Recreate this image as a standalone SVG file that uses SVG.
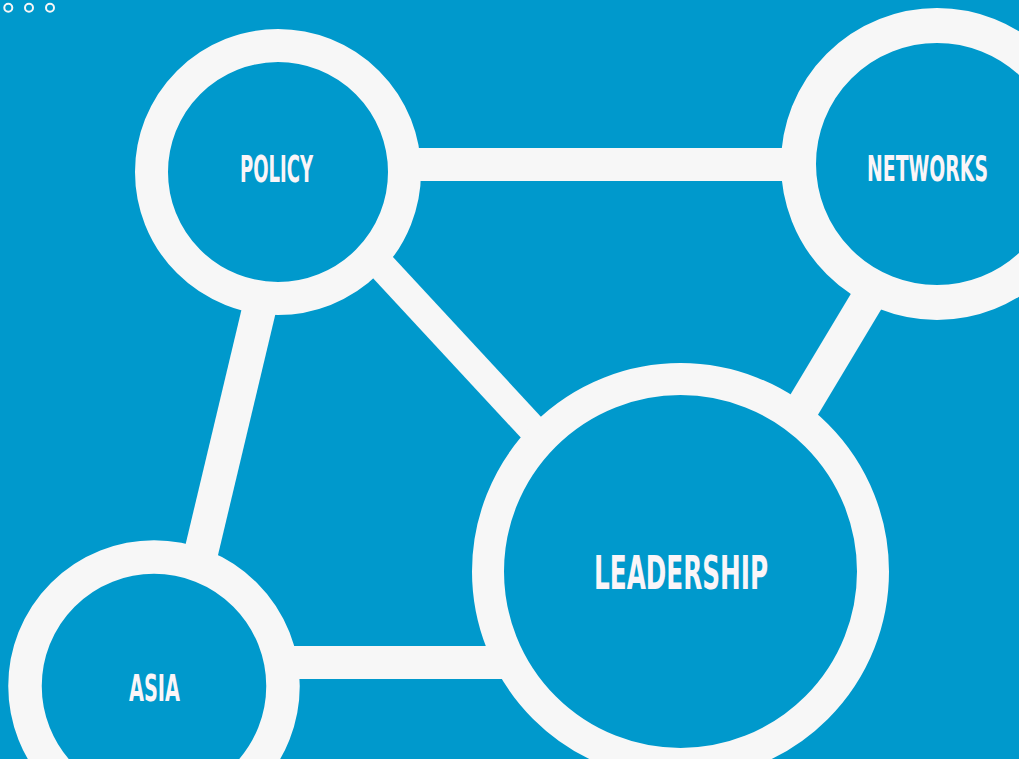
<svg xmlns="http://www.w3.org/2000/svg" width="1019" height="759" viewBox="0 0 1019 759">
<style>
.bg{fill:#0099CC}
.edge{stroke:#F7F7F7;stroke-width:33;fill:none}
.ring{fill:#0099CC;stroke:#F7F7F7}
.dot{fill:none;stroke:#F7F7F7;stroke-width:2}
.lbl{font-family:"DejaVu Sans Condensed","DejaVu Sans",sans-serif;font-weight:bold;fill:#FAF5F8}
</style>
<rect class="bg" x="0" y="0" width="1019" height="759"/>
<g id="dots">
<circle class="dot" cx="8.3" cy="7.7" r="4"/>
<circle class="dot" cx="29" cy="7.7" r="4"/>
<circle class="dot" cx="50" cy="7.7" r="4"/>
</g>
<g id="connectors">
<line class="edge" x1="400" y1="164.5" x2="820" y2="164.5"/>
<line class="edge" x1="273.2" y1="250" x2="189.8" y2="600" style="stroke-width:34"/>
<line class="edge" x1="350" y1="232" x2="540" y2="437" style="stroke-width:29"/>
<line class="edge" x1="897" y1="250" x2="777" y2="450" style="stroke-width:34"/>
<line class="edge" x1="280" y1="662.5" x2="540" y2="662.5"/>
</g>
<g id="policy">
<circle class="ring" cx="278" cy="172" r="126.5" style="stroke-width:33"/>
<text class="lbl" x="240" y="182" font-size="37" textLength="73" lengthAdjust="spacingAndGlyphs">POLICY</text>
</g>
<g id="networks">
<circle class="ring" cx="937" cy="164" r="138.5" style="stroke-width:35"/>
<text class="lbl" x="867" y="181" font-size="36" textLength="121" lengthAdjust="spacingAndGlyphs">NETWORKS</text>
</g>
<g id="leadership">
<circle class="ring" cx="680.5" cy="571.5" r="192.5" style="stroke-width:32"/>
<text class="lbl" x="594" y="589" font-size="47" textLength="174" lengthAdjust="spacingAndGlyphs">LEADERSHIP</text>
</g>
<g id="asia">
<circle class="ring" cx="154" cy="686" r="129" style="stroke-width:33.5"/>
<text class="lbl" x="129" y="701" font-size="37" textLength="51" lengthAdjust="spacingAndGlyphs">ASIA</text>
</g>
</svg>
